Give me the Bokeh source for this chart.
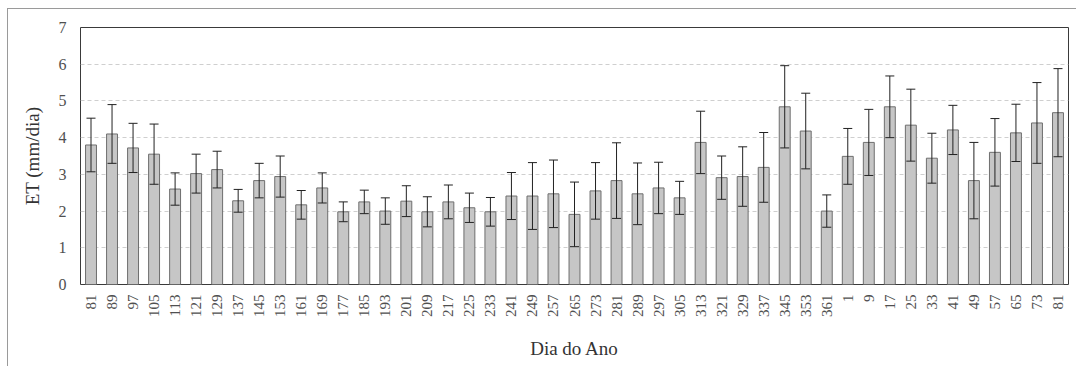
import math
from bokeh.plotting import figure
from bokeh.models import ColumnDataSource, Whisker, FixedTicker, Range1d, TeeHead
from bokeh.embed import file_html
from bokeh.resources import INLINE

# Day of year labels
days = ["81", "89", "97", "105", "113", "121", "129", "137", "145", "153",
        "161", "169", "177", "185", "193", "201", "209", "217", "225", "233",
        "241", "249", "257", "265", "273", "281", "289", "297", "305", "313",
        "321", "329", "337", "345", "353", "361", "1", "9", "17", "25",
        "33", "41", "49", "57", "65", "73", "81"]

# Mean ET (mm/dia)
et = [3.80, 4.10, 3.72, 3.55, 2.60, 3.02, 3.13, 2.28, 2.83, 2.94,
      2.17, 2.63, 1.98, 2.25, 2.00, 2.27, 1.98, 2.25, 2.09, 1.98,
      2.41, 2.41, 2.47, 1.91, 2.55, 2.83, 2.47, 2.63, 2.36, 3.87,
      2.91, 2.94, 3.19, 4.84, 4.18, 2.00, 3.49, 3.87, 4.84, 4.34,
      3.44, 4.21, 2.83, 3.60, 4.13, 4.40, 4.68]

# Standard deviation (mm/dia)
sd = [0.73, 0.80, 0.67, 0.82, 0.44, 0.53, 0.50, 0.31, 0.47, 0.56,
      0.39, 0.41, 0.27, 0.32, 0.36, 0.42, 0.41, 0.46, 0.40, 0.39,
      0.64, 0.91, 0.92, 0.88, 0.77, 1.03, 0.84, 0.70, 0.45, 0.85,
      0.59, 0.81, 0.95, 1.12, 1.03, 0.44, 0.76, 0.90, 0.84, 0.98,
      0.68, 0.67, 1.04, 0.92, 0.78, 1.10, 1.20]

y_ticks = [0, 1, 2, 3, 4, 5, 6, 7]

idx = list(range(len(days)))
source = ColumnDataSource(data=dict(
    x=idx, et=et,
    upper=[e + s for e, s in zip(et, sd)],
    lower=[e - s for e, s in zip(et, sd)],
))

FONT = "Liberation Serif"

p = figure(width=1069, height=358, output_backend="svg", toolbar_location=None,
           x_range=Range1d(-0.5, len(days) - 0.5), y_range=Range1d(0, 7),
           min_border_left=72, min_border_right=9, min_border_top=18,
           min_border_bottom=83,
           styles={"margin-left": "7px", "margin-top": "8px",
                   "border-left": "1px solid #9a9a9a",
                   "border-top": "1px solid #9a9a9a"})

p.vbar(x="x", top="et", width=0.52, source=source,
       fill_color="#c6c6c6", line_color="#6e6e6e", line_width=1)

w = Whisker(base="x", upper="upper", lower="lower", source=source,
            line_color="#222222", line_width=1, level="overlay",
            upper_head=TeeHead(size=9, line_color="#222222", line_width=1),
            lower_head=TeeHead(size=9, line_color="#222222", line_width=1))
p.add_layout(w)

p.outline_line_color = "#3a3a3a"
p.outline_line_width = 1
p.background_fill_color = "white"
p.border_fill_color = "white"

p.xgrid.grid_line_color = None
p.ygrid.grid_line_color = "#cfcfcf"
p.ygrid.grid_line_dash = "4 3"
p.ygrid.ticker = FixedTicker(ticks=[1, 2, 3, 4, 5, 6])

p.xaxis.ticker = FixedTicker(ticks=idx)
p.xaxis.major_label_overrides = {i: d for i, d in enumerate(days)}
p.xaxis.major_label_orientation = math.pi / 2
p.xaxis.axis_label = "Dia do Ano"
p.yaxis.ticker = FixedTicker(ticks=y_ticks)
p.yaxis.axis_label = "ET (mm/dia)"

for ax in list(p.xaxis) + list(p.yaxis):
    ax.axis_line_color = None
    ax.major_tick_line_color = None
    ax.minor_tick_line_color = None
    ax.major_tick_out = 0
    ax.major_tick_in = 0
    ax.major_label_text_font = FONT
    ax.major_label_text_color = "#505050"
    ax.axis_label_text_font = FONT
    ax.axis_label_text_font_style = "normal"
    ax.axis_label_text_color = "#333333"
    ax.axis_label_text_font_size = "19px"

p.xaxis.major_label_text_font_size = "15px"
p.yaxis.major_label_text_font_size = "16px"
p.xaxis.major_label_standoff = 10
p.yaxis.major_label_standoff = 14
p.xaxis.axis_label_standoff = 18
p.yaxis.axis_label_standoff = 13

open("out.html", "w").write(file_html(p, INLINE))
